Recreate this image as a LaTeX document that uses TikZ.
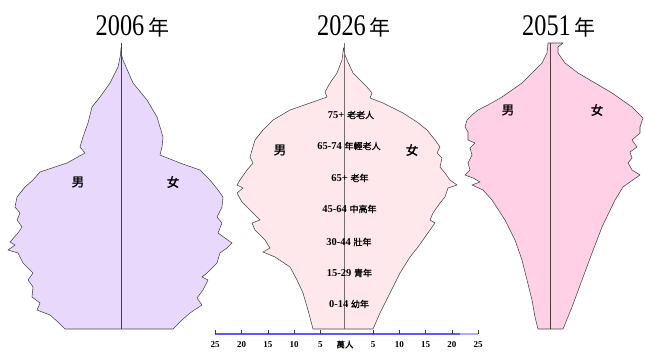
\documentclass[tikz,border=0pt]{standalone}
\usepackage{fontspec}
\setmainfont{Liberation Serif}
\newfontfamily\cjk{Noto Sans CJK TC}
\newfontfamily\cjkb[FakeBold=1.5]{Noto Sans CJK TC}
\definecolor{lav}{HTML}{E8D9FC}
\definecolor{pinklight}{HTML}{FFE8EB}
\definecolor{pinkmid}{HTML}{FFD0E6}
\definecolor{outl}{HTML}{444444}
\definecolor{midline}{HTML}{4A3A3A}
\definecolor{axblue}{HTML}{5C5CF0}
\definecolor{axlight}{HTML}{ABABFF}
\tikzset{
  pyr/.style={draw=outl, line width=0.55pt, line join=round},
  centreline/.style={draw=midline, line width=1pt},
  yeartitle/.style={inner sep=0pt, anchor=center},
  sexlabel/.style={inner sep=0pt, font=\cjkb\fontsize{12.5}{13}\selectfont},
  agelabel/.style={inner sep=0pt, font=\bfseries\fontsize{10.5}{11}\selectfont},
  axlabel/.style={inner sep=0pt, font=\bfseries\fontsize{9}{9}\selectfont},
  tickmark/.style={draw=black!80, line width=0.6pt}
}
\newcommand{\yeartxt}[1]{\scalebox{0.81}[1]{\fontsize{30}{30}\selectfont #1}\hspace{4pt}{\cjk\fontsize{21}{21}\selectfont 年}}
\newcommand{\agecjk}[1]{{\cjkb\mdseries\fontsize{9}{9}\selectfont #1}}
\begin{document}
\begin{tikzpicture}[x=1pt,y=-1pt]
\useasboundingbox (0,0) rectangle (645,352);

% ---------- 2006 ----------
\fill[lav] (65,329)--(58,322)--(50,315)--(37,310)--(40,303)--(32,297)--(33,287)--(28,280)--(33,273)--(23,263)--(18,253)--(8,250)--(15,245)--(10,242)--(18,233)--(22,227)--(17,220)--(20,213)--(15,207)--(17,197)--(25,187)--(33,180)--(40,172)--(67,163)--(85,153)--(80,147)--(83,137)--(88,123)--(92,107)--(100,97)--(110,83)--(118,67)--(120.5,55)--(121,48)--(121.5,55)--(123,60)--(133,83)--(147,100)--(157,117)--(163,137)--(162,147)--(160,155)--(180,163)--(200,170)--(210,180)--(218,190)--(223,197)--(222,207)--(217,217)--(222,223)--(218,233)--(232,243)--(227,248)--(220,253)--(217,263)--(207,273)--(202,277)--(208,280)--(203,290)--(197,298)--(202,305)--(190,313)--(182,320)--(173,329)--cycle;
\draw[pyr] (65,329)--(58,322)--(50,315)--(37,310)--(40,303)--(32,297)--(33,287)--(28,280)--(33,273)--(23,263)--(18,253)--(8,250)--(15,245)--(10,242)--(18,233)--(22,227)--(17,220)--(20,213)--(15,207)--(17,197)--(25,187)--(33,180)--(40,172)--(67,163)--(85,153)--(80,147)--(83,137)--(88,123)--(92,107)--(100,97)--(110,83)--(118,67)--(120.5,55)--(121,48)--(121.5,55)--(123,60)--(133,83)--(147,100)--(157,117)--(163,137)--(162,147)--(160,155)--(180,163)--(200,170)--(210,180)--(218,190)--(223,197)--(222,207)--(217,217)--(222,223)--(218,233)--(232,243)--(227,248)--(220,253)--(217,263)--(207,273)--(202,277)--(208,280)--(203,290)--(197,298)--(202,305)--(190,313)--(182,320)--(173,329)--cycle;
\draw[centreline] (121,43)--(121,329);
\node[yeartitle] (t1) at (132.5,26) {\yeartxt{2006}};
\node[sexlabel] (m1) at (78,182) {男};
\node[sexlabel] (f1) at (173,182) {女};

% ---------- 2026 ----------
\fill[pinklight] (313,329)--(308,310)--(303,293)--(297,280)--(290,267)--(275,257)--(263,252)--(270,248)--(265,240)--(255,230)--(252,223)--(260,220)--(253,213)--(242,202)--(237,193)--(243,188)--(237,185)--(240,180)--(247,170)--(253,163)--(250,157)--(252,150)--(255,140)--(263,130)--(273,120)--(290,110)--(313,102)--(327,97)--(325,92)--(330,83)--(337,73)--(342,60)--(343.5,48)--(345,55)--(347,60)--(353,73)--(367,87)--(372,93)--(370,98)--(383,103)--(403,113)--(417,122)--(427,130)--(435,140)--(440,147)--(437,153)--(442,158)--(440,167)--(445,173)--(450,180)--(457,185)--(448,188)--(445,197)--(440,203)--(433,213)--(430,220)--(435,223)--(430,230)--(418,247)--(410,257)--(400,273)--(390,293)--(380,313)--(373,329)--cycle;
\draw[pyr] (313,329)--(308,310)--(303,293)--(297,280)--(290,267)--(275,257)--(263,252)--(270,248)--(265,240)--(255,230)--(252,223)--(260,220)--(253,213)--(242,202)--(237,193)--(243,188)--(237,185)--(240,180)--(247,170)--(253,163)--(250,157)--(252,150)--(255,140)--(263,130)--(273,120)--(290,110)--(313,102)--(327,97)--(325,92)--(330,83)--(337,73)--(342,60)--(343.5,48)--(345,55)--(347,60)--(353,73)--(367,87)--(372,93)--(370,98)--(383,103)--(403,113)--(417,122)--(427,130)--(435,140)--(440,147)--(437,153)--(442,158)--(440,167)--(445,173)--(450,180)--(457,185)--(448,188)--(445,197)--(440,203)--(433,213)--(430,220)--(435,223)--(430,230)--(418,247)--(410,257)--(400,273)--(390,293)--(380,313)--(373,329)--cycle;
\draw[centreline, draw=midline!75] (344,43)--(344,329);
\node[yeartitle] (t2) at (354,26) {\yeartxt{2026}};
\node[sexlabel] (m2) at (280,150) {男};
\node[sexlabel] (f2) at (412,150) {女};
\node[agelabel] (a1) at (351,115) {75+ \agecjk{老老人}};
\node[agelabel] (a2) at (349,146) {65-74 \agecjk{年輕老人}};
\node[agelabel] (a3) at (350,178) {65+ \agecjk{老年}};
\node[agelabel] (a4) at (349.5,209) {45-64 \agecjk{中高年}};
\node[agelabel] (a5) at (349,242) {30-44 \agecjk{壯年}};
\node[agelabel] (a6) at (349.5,273) {15-29 \agecjk{青年}};
\node[agelabel] (a7) at (349,304) {0-14 \agecjk{幼年}};

% axis
\coordinate (axL) at (215,334);
\coordinate (axM) at (460,334);
\coordinate (axR) at (478,334);
\draw[draw=axblue, line width=1.2pt] (axL)--(axM);
\draw[draw=axlight, line width=1.2pt] (axM)--(axR);
\foreach \k/\lab in {-5/25,-4/20,-3/15,-2/10,-1/5,1/5,2/10,3/15,4/20,5/25}{
  \draw[tickmark] ({346.7+26.3*\k},330)--({346.7+26.3*\k},334);
  \node[axlabel] (lab\k) at ({346.7+26.3*\k},344.5) {\lab};
}
\node[axlabel, font=\cjkb\fontsize{8.5}{9}\selectfont] (unit) at (345,344.5) {萬人};

% ---------- 2051 ----------
\fill[pinkmid] (538,329)--(535,317)--(532,300)--(527,280)--(522,260)--(515,240)--(505,220)--(492,200)--(483,190)--(472,185)--(480,182)--(473,178)--(465,175)--(470,170)--(468,163)--(472,155)--(470,148)--(475,143)--(468,140)--(468,132)--(465,127)--(467,120)--(472,115)--(478,110)--(488,105)--(502,97)--(512,90)--(522,83)--(532,73)--(542,63)--(547,53)--(548,43)--(563,43)--(558,47)--(558,53)--(565,63)--(578,73)--(595,83)--(612,93)--(622,100)--(632,107)--(640,115)--(643,118)--(640,127)--(640,133)--(632,140)--(637,147)--(630,152)--(632,158)--(628,163)--(632,170)--(640,175)--(630,182)--(623,187)--(615,200)--(602,227)--(592,253)--(582,280)--(572,307)--(563,329)--cycle;
\draw[pyr] (538,329)--(535,317)--(532,300)--(527,280)--(522,260)--(515,240)--(505,220)--(492,200)--(483,190)--(472,185)--(480,182)--(473,178)--(465,175)--(470,170)--(468,163)--(472,155)--(470,148)--(475,143)--(468,140)--(468,132)--(465,127)--(467,120)--(472,115)--(478,110)--(488,105)--(502,97)--(512,90)--(522,83)--(532,73)--(542,63)--(547,53)--(548,43)--(563,43)--(558,47)--(558,53)--(565,63)--(578,73)--(595,83)--(612,93)--(622,100)--(632,107)--(640,115)--(643,118)--(640,127)--(640,133)--(632,140)--(637,147)--(630,152)--(632,158)--(628,163)--(632,170)--(640,175)--(630,182)--(623,187)--(615,200)--(602,227)--(592,253)--(582,280)--(572,307)--(563,329)--cycle;
\draw[centreline] (550.7,43)--(550.7,329);
\node[yeartitle] (t3) at (559,26) {\yeartxt{2051}};
\node[sexlabel] (m3) at (508,110) {男};
\node[sexlabel] (f3) at (597,110) {女};
\end{tikzpicture}
\end{document}
